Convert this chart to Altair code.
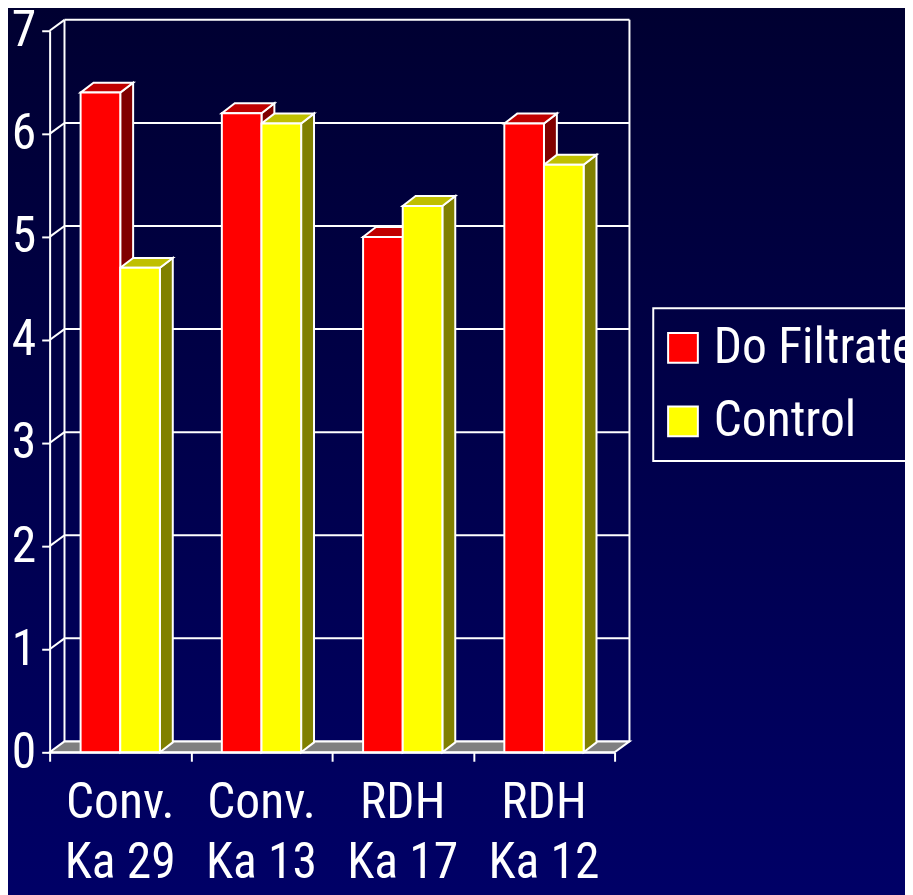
import altair as alt
import pandas as pd

# ---- data ----
line1 = ["Conv.", "Conv.", "RDH", "RDH"]
line2 = ["Ka 29", "Ka 13", "Ka 17", "Ka 12"]
series = ["Do Filtrate", "Control"]
do_filtrate = [6.4, 6.2, 5.0, 6.1]
control = [4.7, 6.1, 5.3, 5.7]
y_ticks = [0, 1, 2, 3, 4, 5, 6, 7]
x_ticks = [0, 1, 2, 3, 4]

# ---- styles ----
front_colors = ["#ff0000", "#ffff00"]
top_colors = ["#c00000", "#c0c000"]
side_colors = ["#800000", "#808000"]
FONT = "Roboto Condensed, DejaVu Sans Condensed, sans-serif"
FS = 50

W, H = 570, 728
XMAX, YMAX = 4, 7
PXU, PYU = W / XMAX, H / YMAX
WALL_DX, WALL_DY = 15 / PXU, 11 / PYU
BAR_DX, BAR_DY = 13 / PXU, 10 / PYU
BAR_W = 40 / PXU

xs = alt.Scale(domain=[0, XMAX], nice=False, zero=False)
ys = alt.Scale(domain=[0, YMAX], nice=False, zero=False)
xaxis = alt.Axis(values=x_ticks, labels=False, title=None, grid=False,
                 domainColor="white", domainWidth=2, tickColor="white",
                 tickWidth=2, tickSize=9, zindex=1)
yaxis = alt.Axis(values=y_ticks, title=None, grid=False, labelFontSize=FS,
                 labelColor="white", labelFont=FONT, tickSize=8,
                 tickColor="white", tickWidth=2, domainColor="white",
                 domainWidth=2, labelPadding=6, zindex=1)


def X(f):
    return alt.X(f, type="quantitative", scale=xs, axis=xaxis, stack=None)


def Y(f):
    return alt.Y(f, type="quantitative", scale=ys, axis=yaxis, stack=None)


# ---- tables built from the arrays ----
front, top, side = [], [], []
for i in range(len(line1)):
    for s, vals in enumerate([do_filtrate, control]):
        v = vals[i]
        a = i + 0.5 + (s - 1) * BAR_W
        b = a + BAR_W
        bid = f"{i}-{s}"
        front.append(dict(bar=bid, series=series[s], x0=a, x1=b, y0=0, v=v))
        top.append(dict(bar=bid, c=top_colors[s], y=v, xa=a, xb=b))
        top.append(dict(bar=bid, c=top_colors[s], y=v + BAR_DY, xa=a + BAR_DX, xb=b + BAR_DX))
        side.append(dict(bar=bid, c=side_colors[s], x=b, ylo=0, yhi=v))
        side.append(dict(bar=bid, c=side_colors[s], x=b + BAR_DX, ylo=BAR_DY, yhi=v + BAR_DY))
front = pd.DataFrame(front)
top = pd.DataFrame(top)
side = pd.DataFrame(side)

grid = pd.DataFrame([dict(xa=WALL_DX, xb=XMAX + WALL_DX, y=k + WALL_DY) for k in y_ticks])
diag = pd.DataFrame([dict(x=0, x2=WALL_DX, y=k, y2=k + WALL_DY) for k in y_ticks[1:]])
walls = pd.DataFrame([dict(x=WALL_DX, y=WALL_DY, y2=YMAX + WALL_DY),
                      dict(x=XMAX + WALL_DX, y=WALL_DY, y2=YMAX + WALL_DY)])
floor = pd.DataFrame([dict(y=0, xa=0, xb=XMAX),
                      dict(y=WALL_DY, xa=WALL_DX, xb=XMAX + WALL_DX)])
labels = pd.DataFrame(dict(x=[i + 0.5 for i in range(len(line1))],
                           t=[f"{a}\n{b}" for a, b in zip(line1, line2)]))

# ---- layers ----
bg = alt.Chart(pd.DataFrame({"a": [0]})).mark_rect(
    color=alt.LinearGradient(gradient="linear", x1=0, y1=0, x2=0, y2=1,
                             stops=[alt.GradientStop(offset=0, color="#000030"),
                                    alt.GradientStop(offset=1, color="#000068")])
).encode(x=alt.value(-60), x2=alt.value(900), y=alt.value(-40), y2=alt.value(900))

grid_l = alt.Chart(grid).mark_rule(color="white", strokeWidth=2).encode(
    x=X("xa"), x2="xb", y=Y("y"))
diag_l = alt.Chart(diag).mark_rule(color="white", strokeWidth=2).encode(
    x=X("x"), x2="x2", y=Y("y"), y2="y2")
wall_l = alt.Chart(walls).mark_rule(color="white", strokeWidth=2).encode(
    x=X("x"), y=Y("y"), y2="y2")
floor_l = alt.Chart(floor).mark_area(orient="horizontal", color="#808080",
                                     stroke="white", strokeWidth=2).encode(
    y=Y("y"), x=X("xa"), x2="xb")
side_l = alt.Chart(side).mark_area(stroke="white", strokeWidth=2, opacity=1).encode(
    x=X("x"), y=Y("ylo"), y2="yhi", detail="bar:N",
    fill=alt.Fill("c:N", scale=None))
top_l = alt.Chart(top).mark_area(orient="horizontal", stroke="white", strokeWidth=2, opacity=1).encode(
    y=Y("y"), x=X("xa"), x2="xb", detail="bar:N",
    fill=alt.Fill("c:N", scale=None))
front_l = alt.Chart(front).mark_rect(stroke="white", strokeWidth=2).encode(
    x=X("x0"), x2="x1", y=Y("y0"), y2="v",
    fill=alt.Fill("series:N", scale=alt.Scale(domain=series, range=front_colors),
                  legend=alt.Legend(title=None, orient="none", legendX=609, legendY=280,
                                    labelFontSize=FS, labelFont=FONT, labelColor="white",
                                    labelLimit=400, symbolType="square", symbolSize=900,
                                    symbolStrokeColor="white", symbolStrokeWidth=2,
                                    symbolOffset=-10,
                                    strokeColor="white", padding=15, rowPadding=24,
                                    labelOffset=6)))
text_l = alt.Chart(labels).mark_text(
    fontSize=FS, font=FONT, color="white", lineBreak="\n", lineHeight=61,
    baseline="alphabetic", align="center").encode(
    x=X("x"), y=alt.value(794), text="t:N")

chart = alt.layer(bg, grid_l, diag_l, wall_l, floor_l, side_l, top_l, front_l, text_l).resolve_scale(
    fill="independent"
).properties(
    width=W, height=H,
    autosize=alt.AutoSizeParams(type="none"),
    padding={"left": 42, "top": 19, "right": 293, "bottom": 140},
    background="#000050",
).configure_view(stroke=None).configure_legend(strokeWidth=2)

chart.save("out.html", embed_options={"renderer": "svg", "actions": False})
